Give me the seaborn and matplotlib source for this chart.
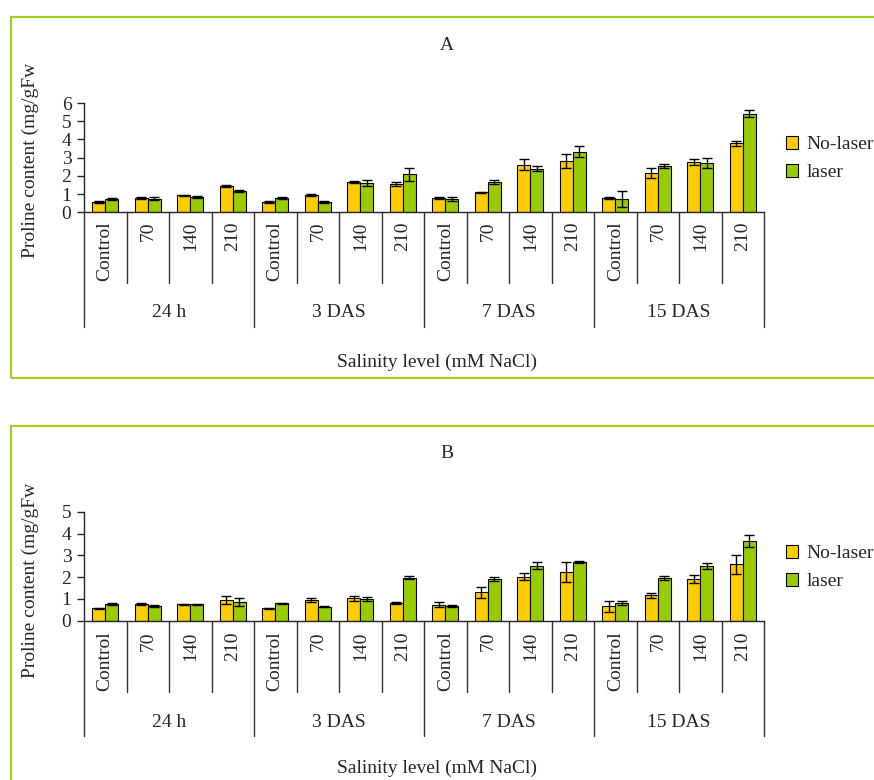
import numpy as np
import pandas as pd
import seaborn as sns
import matplotlib.pyplot as plt
from matplotlib.patches import Rectangle, Patch

# data
groups = ["24 h", "3 DAS", "7 DAS", "15 DAS"]
levels = ["Control", "70", "140", "210"]
treatments = ["No-laser", "laser"]

a_nolaser = [0.55, 0.78, 0.93, 1.44, 0.55, 0.95, 1.65, 1.55,
             0.78, 1.09, 2.60, 2.82, 0.78, 2.16, 2.76, 3.78]
a_nolaser_err = [0.05, 0.05, 0.03, 0.05, 0.05, 0.06, 0.05, 0.10,
                 0.05, 0.05, 0.30, 0.40, 0.04, 0.27, 0.15, 0.12]
a_laser = [0.73, 0.75, 0.82, 1.18, 0.80, 0.58, 1.60, 2.09,
           0.73, 1.67, 2.40, 3.33, 0.73, 2.53, 2.69, 5.42]
a_laser_err = [0.05, 0.10, 0.05, 0.05, 0.05, 0.05, 0.15, 0.36,
               0.13, 0.12, 0.15, 0.30, 0.45, 0.10, 0.28, 0.20]

b_nolaser = [0.57, 0.75, 0.75, 0.95, 0.57, 0.95, 1.02, 0.81,
             0.73, 1.30, 2.02, 2.22, 0.67, 1.16, 1.90, 2.58]
b_nolaser_err = [0.03, 0.04, 0.03, 0.18, 0.03, 0.10, 0.10, 0.03,
                 0.12, 0.25, 0.17, 0.45, 0.25, 0.13, 0.18, 0.43]
b_laser = [0.76, 0.67, 0.75, 0.86, 0.80, 0.64, 0.99, 1.97,
           0.67, 1.91, 2.52, 2.70, 0.80, 1.96, 2.50, 3.67]
b_laser_err = [0.06, 0.03, 0.03, 0.20, 0.03, 0.03, 0.10, 0.07,
               0.05, 0.10, 0.17, 0.05, 0.10, 0.10, 0.15, 0.28]

colors = ["#FFCC00", "#99CC00"]
frame_color = "#A2D02A"

sns.set_style("ticks")
plt.rcParams['font.family'] = ['Liberation Serif', 'DejaVu Serif']
plt.rcParams['font.size'] = 14

W, H = 874, 780
fig = plt.figure(figsize=(W / 100, H / 100), dpi=100)


def px_box(left, top, right, bottom):
    return [left / W, 1 - bottom / H, (right - left) / W, (bottom - top) / H]


cats = [f"{g}|{l}" for g in groups for l in levels]


def draw_panel(box, ymax, nolaser, nolaser_err, laser, laser_err, depths):
    lab_top, cat_depth, grp_depth, grp_lab = depths
    ax = fig.add_axes(px_box(*box))
    df = pd.DataFrame({
        "cat": cats * 2,
        "treatment": np.repeat(treatments, len(cats)),
        "value": nolaser + laser,
    })
    sns.barplot(data=df, x="cat", y="value", hue="treatment",
                order=cats, hue_order=treatments, palette=colors,
                width=0.62, gap=0, saturation=1, errorbar=None,
                edgecolor="black", linewidth=0.8, legend=False, ax=ax)
    for cont, errs, vals in zip(ax.containers, [nolaser_err, laser_err], [nolaser, laser]):
        xs = [p.get_x() + p.get_width() / 2 for p in cont]
        ax.errorbar(xs, vals, yerr=errs, fmt="none", ecolor="black",
                    elinewidth=1, capsize=3.5, capthick=1)

    ax.set_xlim(-0.5, len(cats) - 0.5)
    ax.set_ylim(0, ymax)
    ax.set_yticks(range(ymax + 1))
    ax.set_xticks([])
    ax.set_xlabel("")
    ax.set_ylabel("")
    ax.tick_params(axis="y", length=5, width=1, pad=4, labelsize=14)
    for s in ["top", "right"]:
        ax.spines[s].set_visible(False)
    for s in ["left", "bottom"]:
        ax.spines[s].set_linewidth(1)

    trans = ax.get_xaxis_transform()
    for i in range(len(cats) + 1):
        y_low = grp_depth if i % 4 == 0 else cat_depth
        ax.plot([i - 0.5, i - 0.5], [0, y_low], transform=trans,
                color="#333333", lw=1, clip_on=False)
    for i, c in enumerate(cats):
        ax.text(i, lab_top, c.split("|")[1], transform=trans, rotation=90,
                ha="center", va="top", fontsize=14)
    for g_i, g in enumerate(groups):
        ax.text(g_i * 4 + 1.5, grp_lab, g, transform=trans,
                ha="center", va="center", fontsize=14)

    handles = [Patch(facecolor=c, edgecolor="black", linewidth=0.8) for c in colors]
    return ax, handles


# panel A
axA, handles = draw_panel((84, 103, 764, 212.3), 6, a_nolaser, a_nolaser_err,
                          a_laser, a_laser_err, (-0.085, -0.644, -1.047, -0.921))
axB, _ = draw_panel((84, 511.7, 764, 620.7), 5, b_nolaser, b_nolaser_err,
                    b_laser, b_laser_err, (-0.10, -0.651, -1.058, -0.936))

# frames
fig.patches.append(Rectangle((11 / W, 1 - 378 / H), 880 / W, 361 / H,
                             transform=fig.transFigure, fill=False,
                             edgecolor=frame_color, lw=1.6))
fig.patches.append(Rectangle((11 / W, -0.05), 880 / W, 1.05 - 426 / H,
                             transform=fig.transFigure, fill=False,
                             edgecolor=frame_color, lw=1.6))

# titles and labels
fig.text(447 / W, 1 - 45 / H, "A", ha="center", va="center", fontsize=14)
fig.text(447 / W, 1 - 453 / H, "B", ha="center", va="center", fontsize=14)
fig.text(30 / W, 1 - 160 / H, "Proline content (mg/gFw", rotation=90,
         ha="center", va="center", fontsize=14)
fig.text(30 / W, 1 - 580 / H, "Proline content (mg/gFw", rotation=90,
         ha="center", va="center", fontsize=14)
fig.text(437 / W, 1 - 362 / H, "Salinity level (mM NaCl)", ha="center",
         va="center", fontsize=14)
fig.text(437 / W, 1 - 768 / H, "Salinity level (mM NaCl)", ha="center",
         va="center", fontsize=14)

for ax, yc in [(axA, 158.5), (axB, 567.5)]:
    ax.legend(handles, treatments, loc="center left",
              bbox_to_anchor=(778 / W, 1 - yc / H), bbox_transform=fig.transFigure,
              frameon=False, fontsize=14, handlelength=0.65, handleheight=0.65,
              handletextpad=0.4, labelspacing=0.55, borderaxespad=0)

fig.savefig("out.png", dpi=100)
